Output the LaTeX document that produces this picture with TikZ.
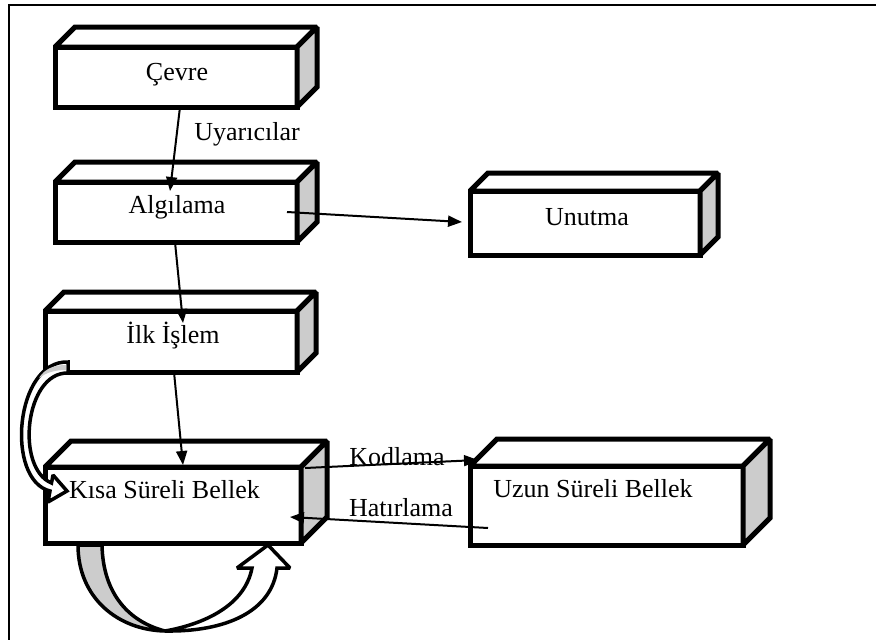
\documentclass[tikz,border=0pt]{standalone}
\usepackage{fontspec}
\setmainfont{Liberation Serif}
\usetikzlibrary{arrows.meta}
\newcommand\cuboid[2]{%
  \draw[cubeline,fill=white] (#1.north west) -- ++(#2,-#2) -- ([shift={(#2,-#2)}]#1.north east) -- (#1.north east) -- cycle;
  \draw[cubeline,fill=sidegray] (#1.north east) -- ++(#2,-#2) -- ([shift={(#2,-#2)}]#1.south east) -- (#1.south east) -- cycle;
}
\definecolor{sidegray}{HTML}{CCCCCC}
\begin{document}
\begin{tikzpicture}[x=1pt,y=-1pt,
  cubeline/.style={line width=5pt,line join=miter,miter limit=1.5},
  boxface/.style={draw,fill=white,line width=5pt,line join=miter,inner sep=0pt,outer sep=0pt,rectangle},
  txt/.style={anchor=base,inner sep=0pt,font=\fontsize{26}{30}\selectfont},
  conn/.style={line width=2pt,-{Triangle[length=14pt,width=11pt]}},
  band/.style={line width=3.5pt,line join=miter,miter limit=2,draw=black}
]
\useasboundingbox (0,0) rectangle (876,640);
\fill[white] (0,0) rectangle (876,640);
\draw[line width=2pt] (876,5) -- (9,5) -- (9,640);

% boxes (front faces)
\node[boxface,minimum width=242pt,minimum height=60pt] (cevre) at (176,77) {};
\cuboid{cevre}{20}
\node[boxface,minimum width=242pt,minimum height=60pt] (alg) at (176,212) {};
\cuboid{alg}{20}
\node[boxface,minimum width=230pt,minimum height=64pt] (unutma) at (585,223) {};
\cuboid{unutma}{18}
\node[boxface,minimum width=252pt,minimum height=61pt] (ilk) at (171,341.5) {};
\cuboid{ilk}{19}
\node[boxface,minimum width=256pt,minimum height=76pt] (kisa) at (173,505) {};
\cuboid{kisa}{26}
\node[boxface,minimum width=273pt,minimum height=79pt] (uzun) at (606.5,505.5) {};
\cuboid{uzun}{27}

% texts
\node[txt] (tcevre) at (177,80) {Çevre};
\node[txt] (talg) at (177,213) {Algılama};
\node[txt] (tunutma) at (587,225) {Unutma};
\node[txt] (tilk) at (173,343) {İlk İşlem};
\node[txt] (tkisa) at (164.5,498) {Kısa Süreli Bellek};
\node[txt] (tuzun) at (593,497) {Uzun Süreli Bellek};
\node[txt] (luyar) at (247,140) {Uyarıcılar};
\node[txt] (lkod) at (397,465) {Kodlama};
\node[txt] (lhat) at (401,516) {Hatırlama};

% connectors
\draw[conn] ([xshift=4pt]cevre.south) -- ([xshift=-6pt,yshift=-9pt]alg.north);
\draw[conn] ([xshift=-10pt]alg.east) -- ([xshift=-8pt,yshift=1pt]unutma.west);
\draw[conn] ([xshift=-1pt]alg.south) -- ([xshift=12pt,yshift=-12pt]ilk.north);
\draw[conn] ([xshift=3pt]ilk.south) -- ([xshift=10pt,yshift=2pt]kisa.north);
\draw[conn] ([xshift=4pt,yshift=-1pt]kisa.north east) -- ([xshift=8pt,yshift=6pt]uzun.north west);
\draw[conn] ([xshift=18pt,yshift=17pt]uzun.south west) -- ([xshift=-11pt,yshift=26pt]kisa.south east);

% left curved block arrow (Ilk Islem -> Kisa Sureli Bellek)
\filldraw[band,fill=white] (68,362) .. controls (15,360) and (5,480) .. (50,491)
  -- (48,502) -- (67,491) -- (53,475) -- (51.5,483)
  .. controls (15,468) and (25,372) .. (68,373) -- cycle;
\fill[sidegray] (66,365) .. controls (52,365) and (44,370) .. (39,378) .. controls (47,372) and (56,370) .. (66,370) -- cycle;

% bottom curved block arrow (loop on Kisa Sureli Bellek)
\filldraw[band,fill=sidegray] (78,545) .. controls (78,598) and (118,630) .. (165,631)
  .. controls (130,622) and (103,595) .. (102,545) -- cycle;
\filldraw[band,fill=white] (165,631) .. controls (225,632) and (272,612) .. (277,568)
  -- (290,568) -- (268,545) -- (237,568) -- (252,568)
  .. controls (245,605) and (205,624) .. (165,631) -- cycle;
\end{tikzpicture}
\end{document}
